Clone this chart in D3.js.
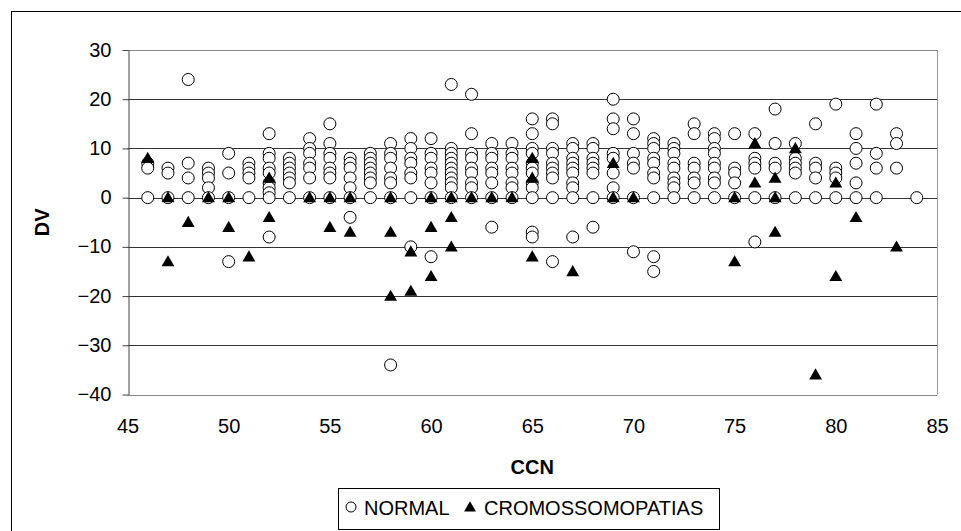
<!DOCTYPE html>
<html>
<head>
<meta charset="utf-8">
<script src="https://cdn.jsdelivr.net/npm/d3@7"></script>
<style>
  html, body { margin: 0; padding: 0; background: #fff; }
  svg { display: block; }
  text { font-family: "Liberation Sans", Arial, sans-serif; fill: #000; }
</style>
</head>
<body>
<svg id="chart" width="961" height="531"></svg>
<script>
// ---- data ----
const ccnValues = [46,47,48,49,50,51,52,53,54,55,56,57,58,59,60,61,62,63,64,65,66,67,68,69,70,71,72,73,74,75,76,77,78,79,80,81,82,83,84];
const normalDV = [
  [7,6,0],[6,5,0],[24,7,4,0],[6,5,4,2,0],[9,5,0,-13],[7,6,5,4,0],
  [13,9,8,6,5,3,2,1,0,-8],[8,7,6,5,4,3,0],[12,10,9,7,6,4,0],[15,11,9,8,6,5,4,0],
  [8,7,6,4,2,0,-4],[9,8,7,6,5,4,3,0],[11,9,8,6,4,3,0,-34],[12,10,8,7,5,4,0,-10],
  [12,9,8,6,5,3,0,-12],[23,10,9,8,7,6,5,4,3,2,0],[21,13,9,8,6,5,3,2,0],[11,9,8,6,5,3,0,-6],
  [11,9,8,6,5,3,2,0],[16,13,10,9,7,6,5,3,2,0,-7,-8],[16,15,10,9,7,6,5,4,0,-13],
  [11,10,8,7,6,5,3,2,0,-8],[11,10,8,7,6,5,0,-6],[20,16,14,9,8,5,2,0],[16,13,9,7,6,0,-11],
  [12,11,10,8,7,5,4,0,-12,-15],[11,10,9,7,6,4,3,2,0],[15,13,7,6,4,3,0],[13,12,10,9,7,6,4,3,0],
  [13,6,5,3,0],[13,8,7,6,0,-9],[18,11,7,6,0],[11,8,7,6,5,0],[15,7,6,4,0],[19,6,5,4,0],
  [13,10,7,3,0],[19,9,6,0],[13,11,6],[0]
];
const cromDV = [
  [8],[0,-13],[-5],[0],[0,-6],[-12],[4,-4],[],[0],[0,-6],[0,-7],[],[0,-7,-20],[-11,-19],
  [0,-6,-16],[0,-4,-10],[0],[0],[0],[8,4,-12],[],[-15],[],[7,0],[0],[],[],[],[],
  [0,-13],[11,3],[4,0,-7],[10],[-36],[3,-16],[-4],[],[-10],[]
];
const xTicks = [45,50,55,60,65,70,75,80,85];
const yTicks = [-40,-30,-20,-10,0,10,20,30];
const seriesNames = ["NORMAL", "CROMOSSOMOPATIAS"];
const xTitle = "CCN";
const yTitle = "DV";

// ---- build points ----
const normalPts = [], cromPts = [];
ccnValues.forEach((c, i) => {
  normalDV[i].forEach(v => normalPts.push({x: c, y: v}));
  cromDV[i].forEach(v => cromPts.push({x: c, y: v}));
});

const svg = d3.select("#chart");
const plot = {left: 127.5, right: 937, top: 50, bottom: 394.5};

const x = d3.scaleLinear().domain([45, 85]).range([plot.left, plot.right]);
const y = d3.scaleLinear().domain([-40, 30]).range([plot.bottom, plot.top]);

// outer frame
svg.append("rect").attr("x", 11.5).attr("y", 11.5).attr("width", 1000).attr("height", 600)
  .attr("fill", "#fff").attr("stroke", "#000").attr("stroke-width", 1);

// gridlines
svg.append("g").selectAll("line").data(yTicks).join("line")
  .attr("x1", plot.left).attr("x2", plot.right)
  .attr("y1", d => Math.round(y(d)) + 0.5).attr("y2", d => Math.round(y(d)) + 0.5)
  .attr("stroke", d => (d === 30 || d === -40) ? "#888" : "#333").attr("stroke-width", 1);

// plot border right
svg.append("line").attr("x1", plot.right + 0.5).attr("x2", plot.right + 0.5)
  .attr("y1", plot.top).attr("y2", plot.bottom).attr("stroke", "#999");

// y axis
const yAxis = d3.axisLeft(y).tickValues(yTicks).tickSize(6).tickPadding(11).tickSizeOuter(0);
const gy = svg.append("g").attr("transform", `translate(${Math.round(plot.left) + 0.5},0)`).call(yAxis);
gy.select(".domain").attr("stroke", "#444");
gy.selectAll(".tick line").attr("stroke", "#444");
gy.selectAll(".tick text").attr("font-size", 20).attr("font-family", "Liberation Sans, Arial, sans-serif").attr("dy", "0.3em");

// x axis (labels only)
const xAxis = d3.axisBottom(x).tickValues(xTicks).tickSize(0).tickPadding(24).tickSizeOuter(0);
const gx = svg.append("g").attr("transform", `translate(0,${plot.bottom})`).call(xAxis);
gx.select(".domain").remove();
gx.selectAll(".tick text").attr("font-size", 20).attr("font-family", "Liberation Sans, Arial, sans-serif");

// axis titles
svg.append("text").attr("x", (plot.left + plot.right) / 2).attr("y", 474)
  .attr("text-anchor", "middle").attr("font-size", 20).attr("font-weight", "bold").text(xTitle);
svg.append("text").attr("transform", `translate(49,${(plot.top + plot.bottom) / 2}) rotate(-90)`)
  .attr("text-anchor", "middle").attr("font-size", 20).attr("font-weight", "bold").text(yTitle);

// markers
const tri = d3.symbol().type(d3.symbolTriangle).size(72);
svg.append("g").selectAll("circle").data(normalPts).join("circle")
  .attr("cx", d => x(d.x)).attr("cy", d => y(d.y)).attr("r", 6)
  .attr("fill", "#fff").attr("stroke", "#000").attr("stroke-width", 1);
svg.append("g").selectAll("path").data(cromPts).join("path")
  .attr("d", tri).attr("transform", d => `translate(${x(d.x)},${y(d.y) + 1})`)
  .attr("fill", "#000");

// legend
const lg = svg.append("g");
lg.append("rect").attr("x", 338.5).attr("y", 488.5).attr("width", 381).attr("height", 41)
  .attr("fill", "#fff").attr("stroke", "#000");
lg.append("circle").attr("cx", 351).attr("cy", 507).attr("r", 5)
  .attr("fill", "#fff").attr("stroke", "#000");
lg.append("text").attr("x", 364).attr("y", 515).attr("font-size", 20).text(seriesNames[0]);
lg.append("path").attr("d", d3.symbol().type(d3.symbolTriangle).size(60)())
  .attr("transform", "translate(470,508)").attr("fill", "#000");
lg.append("text").attr("x", 484).attr("y", 515).attr("font-size", 20).text(seriesNames[1]);
</script>
</body>
</html>
